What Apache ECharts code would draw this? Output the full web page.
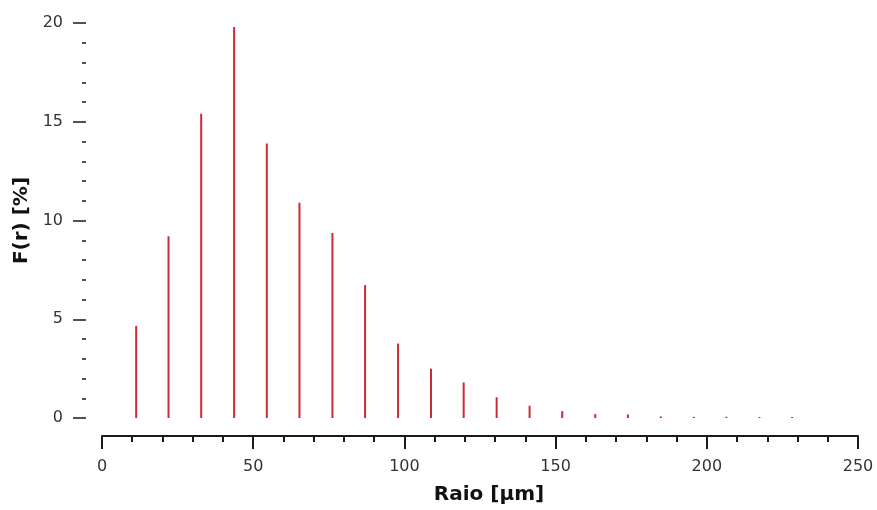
<!DOCTYPE html>
<html>
<head>
<meta charset="utf-8">
<script src="https://cdn.jsdelivr.net/npm/echarts@6/dist/echarts.min.js"></script>
<style>html,body{margin:0;padding:0;background:#fff}#c{width:877px;height:510px}</style>
</head>
<body>
<div id="c"></div>
<script>
const radius = [11.3, 22.0, 32.8, 43.7, 54.5, 65.3, 76.2, 87.0, 97.9, 108.8, 119.6, 130.5, 141.4, 152.2, 163.1, 173.9, 184.8, 195.7, 206.5, 217.4, 228.2];
const freq = [4.66, 9.2, 15.4, 19.8, 13.9, 10.9, 9.37, 6.73, 3.77, 2.5, 1.8, 1.05, 0.62, 0.35, 0.2, 0.18, 0.08, 0.06, 0.06, 0.05, 0.05];
const xTitle = 'Raio [µm]';
const yTitle = 'F(r) [%]';

const chart = echarts.init(document.getElementById('c'));
const font = 'DejaVu Sans';
chart.setOption({
  animation: false,
  backgroundColor: '#fff',
  grid: { left: 102, right: 19, top: 23, bottom: 91.5 },
  xAxis: {
    type: 'value', min: 0, max: 250, interval: 50,
    offset: 18,
    name: xTitle, nameLocation: 'middle', nameGap: 49,
    nameTextStyle: { fontFamily: font, fontSize: 20, fontWeight: 'bold', color: '#111', padding: [0, 0, 0, 18] },
    axisLine: { show: true, onZero: false, lineStyle: { color: '#1a1a1a', width: 2 } },
    axisTick: { show: true, length: 13, lineStyle: { color: '#1a1a1a', width: 2 } },
    minorTick: { show: true, splitNumber: 5, length: 6, lineStyle: { color: '#1a1a1a', width: 2 } },
    axisLabel: { margin: 23, fontFamily: font, fontSize: 16, color: '#333' },
    splitLine: { show: false }
  },
  yAxis: {
    type: 'value', min: 0, max: 20, interval: 5,
    offset: 16,
    name: yTitle, nameLocation: 'middle', nameGap: 50, nameRotate: 90,
    nameTextStyle: { fontFamily: font, fontSize: 20, fontWeight: 'bold', color: '#111' },
    axisLine: { show: false, onZero: false },
    axisTick: { show: true, length: 13, lineStyle: { color: '#1a1a1a', width: 1.5 } },
    minorTick: { show: true, splitNumber: 5, length: 4, lineStyle: { color: '#1a1a1a', width: 1.5 } },
    axisLabel: { margin: 23, fontFamily: font, fontSize: 16, color: '#333' },
    splitLine: { show: false }
  },
  series: [{
    type: 'bar',
    barWidth: 2,
    itemStyle: { color: '#cc2a36' },
    data: radius.map((r, i) => [r, freq[i]])
  }]
});
</script>
</body>
</html>
